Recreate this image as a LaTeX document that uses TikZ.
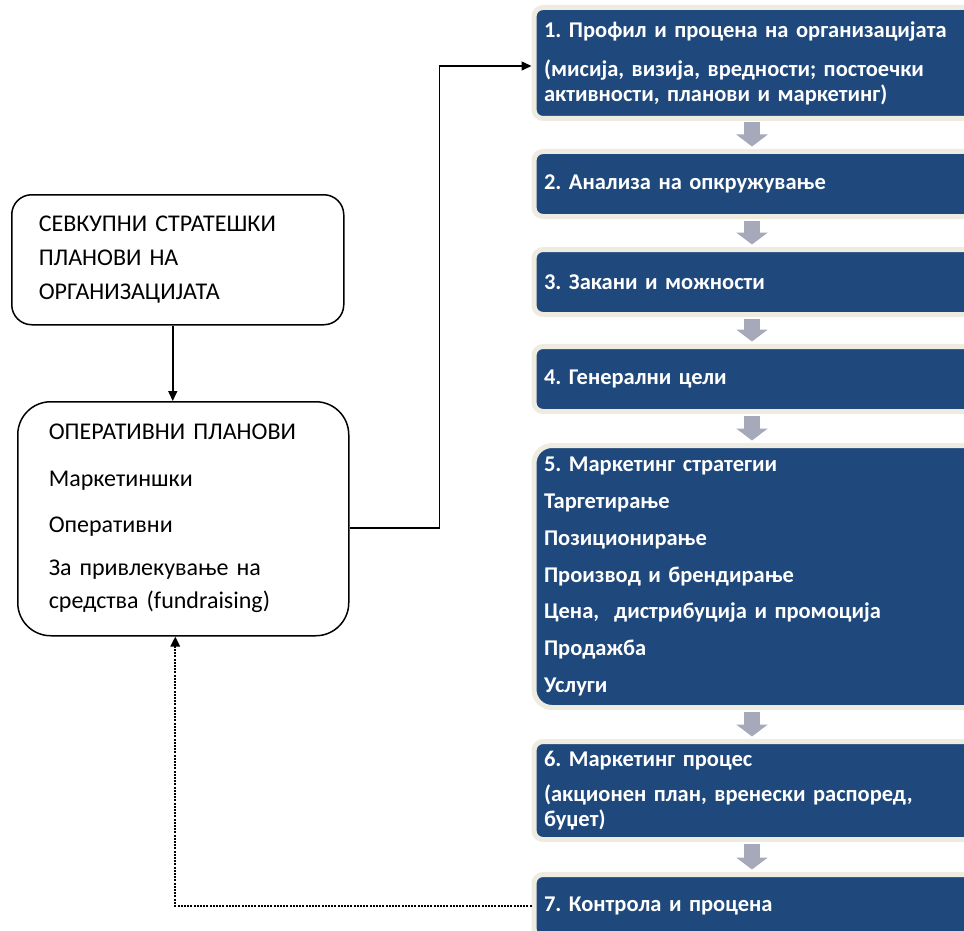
\documentclass[tikz,border=0pt]{standalone}
\usepackage{fontspec}
\setmainfont{Carlito}
\usetikzlibrary{arrows.meta, positioning}
\definecolor{stageblue}{HTML}{1F497D}
\definecolor{stageframe}{HTML}{EEECE1}
\definecolor{flowgray}{HTML}{A5A9B9}
\frenchspacing

\begin{document}
\begin{tikzpicture}[x=1pt, y=-1pt,
  stage/.style={rectangle, draw=stageframe, line width=5pt, fill=stageblue,
    rounded corners=9pt, text=white, font=\fontsize{22.5}{25}\selectfont\bfseries,
    align=left, text width=440pt, inner xsep=10pt, inner ysep=0pt, anchor=west},
  plan/.style={rectangle, draw, line width=1.5pt, fill=white, align=left,
    font=\fontsize{24}{33}\selectfont, inner ysep=0pt, anchor=north west},
  flow/.style={draw=flowgray, line width=16pt, -{Triangle[width=31pt, length=12pt]},
    shorten <=1.5pt, shorten >=2.5pt},
  link/.style={draw, line width=1.5pt, -{Triangle[width=9pt, length=10pt]}}
]
  \useasboundingbox (0,0) rectangle (964,931);
  \clip (0,0) rectangle (964,931);

  % right column: steps
  \node[stage, minimum height=111pt] (b1) at (531.5,63)
    {1. Профил и процена на организацијата\\[14pt]
     (мисија, визија, вредности; постоечки\\
     активности, планови и маркетинг)};
  \node[stage, minimum height=65pt] (b2) at (531.5,184) {2. Анализа на опкружување};
  \node[stage, minimum height=65pt] (b3) at (531.5,282) {3. Закани и можности};
  \node[stage, minimum height=65pt] (b4) at (531.5,379) {4. Генерални цели};
  \node[stage, minimum height=262pt, rounded corners=18pt] (b5) at (531.5,576.5)
    {5. Маркетинг стратегии\\[11.7pt]
     Таргетирање\\[11.7pt]
     Позиционирање\\[11.7pt]
     Производ и брендирање\\[11.7pt]
     Цена, \ дистрибуција и промоција\\[11.7pt]
     Продажба\\[11.7pt]
     Услуги};
  \node[stage, minimum height=98pt] (b6) at (531.5,790.5)
    {6. Маркетинг процес\\[10pt]
     (акционен план, вренески распоред,\\
     буџет)};
  \node[stage, minimum height=63pt] (b7) at (531.5,906) {7. Контрола и процена};

  % left column: plans
  \node[plan, text width=278pt, inner xsep=27pt, minimum height=130pt,
    rounded corners=20pt, font=\fontsize{24}{34}\selectfont] (sv) at (11,194)
    {СЕВКУПНИ СТРАТЕШКИ\\ ПЛАНОВИ НА\\ ОРГАНИЗАЦИЈАТА};
  \node[plan, text width=269pt, inner xsep=31pt, minimum height=234pt,
    rounded corners=33pt] (op) at (17,401)
    {ОПЕРАТИВНИ ПЛАНОВИ\\[14pt]
     Маркетиншки\\[13pt]
     Оперативни\\[10pt]
     За привлекување на\\
     средства (fundraising)};

  % connectors
  \coordinate (axis) at (752,0);
  \foreach \a/\b in {b1/b2, b2/b3, b3/b4, b4/b5, b5/b6, b6/b7}
    \draw[flow] (\a.south -| axis) -- (\b.north -| axis);

  \draw[link] ([xshift=-5pt]sv.south) -- ([xshift=-5pt]sv.south |- op.north);
  \draw[link] ([yshift=-9pt]op.east) -- ++(90,0) |- ([yshift=-3pt]b1.west);
  \draw[link, line width=2.4pt, dash pattern=on 2pt off 1.2pt] (b7.west) -| ([xshift=-8pt]op.south);
\end{tikzpicture}
\end{document}
